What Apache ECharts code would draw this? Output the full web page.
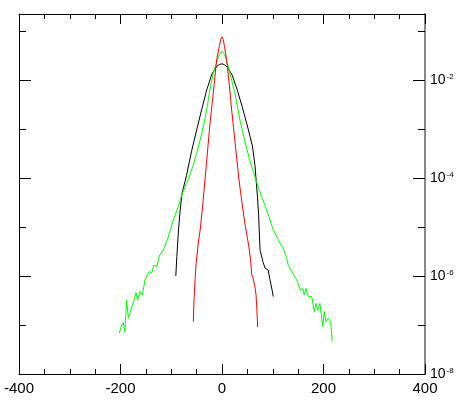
<!DOCTYPE html>
<html lang="en">
<head>
  <meta charset="UTF-8">
  <title>chart</title>
  <script src="https://cdn.jsdelivr.net/npm/echarts@6/dist/echarts.min.js"></script>
  <style>
    html,body{padding:0;margin:0;background:#fff;}
    #box{width:463px;height:405px;}
  </style>
</head>
<body>
  <div id="box"></div>
  <script>
    // black curve
    const blackX = [-91,-89,-86,-83,-79,-76,-70,-60,-50,-40,-30,-20,-10,-5,0,5,10,20,30,40,50,60,65,70,72,75,77,81,85,91,94,96,99,101]
    const blackY = [1.0e-6,2.5e-6,7.9e-6,1.9e-5,4.7e-5,6.3e-5,1.12e-4,3.5e-4,9.5e-4,2.5e-3,6.3e-3,1.32e-2,1.9e-2,2.07e-2,2.14e-2,2.04e-2,1.86e-2,1.26e-2,6.3e-3,2.8e-3,1.15e-3,4.5e-4,1.78e-4,4.0e-5,1.9e-5,3.3e-6,2.8e-6,1.9e-6,1.45e-6,1.32e-6,8.9e-7,7.1e-7,5.0e-7,3.8e-7]

    // red curve
    const redX = [-56.5,-55,-53,-51,-47,-43,-38,-33.5,-28,-23.6,-17,-10.5,-5,-2.5,0,2.5,5,9,14,19,26,33.5,40,45,50,54,57,58.5,61,63,65,67,68.5,70.3]
    const redY = [1.17e-7,3.5e-7,8.5e-7,1.8e-6,4.5e-6,8.7e-6,2.8e-5,9.1e-5,4.0e-4,1.32e-3,5.6e-3,2.6e-2,5.0e-2,6.8e-2,7.6e-2,6.6e-2,4.8e-2,2.6e-2,8.9e-3,2.45e-3,5.0e-4,9.1e-5,2.8e-5,1.2e-5,6.0e-6,3.4e-6,1.78e-6,1.07e-6,9.3e-7,8.7e-7,6.0e-7,4.2e-7,2.3e-7,9.1e-8]

    // green curve
    const greenX = [-202.3,-197.6,-194.4,-191.7,-187.7,-184.6,-181.2,-177.9,-173.4,-169.4,-166.1,-161.5,-157,-151.7,-148.3,-143.2,-138.5,-134,-128.6,-123.5,-115.6,-107.8,
      -96,-86,-79,-66,-58,-50,-40,-30,-24,-17,-10,-5,0,5,10,17,25,35.5,45,55,68,78,88,101,
      114.3,120.8,127.5,130.6,134,139.3,141.8,147.2,150.3,155,159,162.1,165.5,170,176.7,181.8,185.2,188.5,193,198.4,201.5,204.9,209.4,214.2,217.3]
    const greenY = [6.9e-8,1.0e-7,1.12e-7,7.2e-8,3.2e-7,1.38e-7,1.78e-7,1.66e-7,3.2e-7,4.6e-7,3.2e-7,4.8e-7,4.1e-7,8.3e-7,7.6e-7,1.23e-6,1.15e-6,1.66e-6,1.55e-6,2.57e-6,3.4e-6,5.4e-6,
      1.38e-5,2.6e-5,4.7e-5,9.5e-5,1.66e-4,3.16e-4,7.9e-4,2.45e-3,6.3e-3,1.41e-2,2.4e-2,3.3e-2,3.9e-2,3.3e-2,2.3e-2,1.2e-2,5.6e-3,1.51e-3,5.6e-4,2.24e-4,8.3e-5,4.2e-5,2.24e-5,8.7e-6,
      4.7e-6,3.7e-6,2.3e-6,1.66e-6,1.74e-6,1.15e-6,1.23e-6,8.3e-7,8.5e-7,5.1e-7,5.6e-7,4.1e-7,5.6e-7,3.8e-7,3.8e-7,1.86e-7,2.75e-7,2.0e-7,2.75e-7,9.3e-8,1.86e-7,1.17e-7,1.38e-7,1.17e-7,4.6e-8]

    const xMin = -400, xMax = 400
    const yMin = 1e-8, yMax = 0.222

    function pairs(xs, ys){ return xs.map((x,i)=>[x, ys[i]]) }

    const font = 'Liberation Sans'
    const xBase = {
      type:'value', min:xMin, max:xMax, interval:200,
      axisLine:{show:true, onZero:false, lineStyle:{color:'#000', width:1}},
      axisTick:{inside:true, length:10, lineStyle:{color:'#000'}},
      minorTick:{show:true, splitNumber:4, length:5, lineStyle:{color:'#000'}},
      splitLine:{show:false}
    }
    function yAx(pos, interval, len, labels, lineShow, lineColor){
      return {
        type:'log', logBase:10, min:yMin, max:yMax, interval:interval, position:pos,
        axisLine:{show:lineShow, onZero:false, lineStyle:{color:lineColor, width: lineColor=='#000'?1:2}},
        axisTick:{inside:true, length:len, lineStyle:{color:'#000'}},
        splitLine:{show:false},
        axisLabel:{
          show:labels, margin:5, color:'#000',
          formatter:function(v){
            let l = Math.log10(v), e = Math.round(l)
            if(Math.abs(l-e)>0.01) return ''
            return '{b|10}{s|' + e + '}'
          },
          rich:{
            b:{fontSize:14, fontFamily:font, color:'#000'},
            s:{fontSize:8, fontFamily:font, color:'#000', verticalAlign:'top', padding:[0,0,0,1]}
          }
        }
      }
    }

    let option = {
      animation:false,
      backgroundColor:'#fff',
      grid:{left:19, right:38, top:14, bottom:31},
      xAxis:[
        Object.assign({}, xBase, {position:'bottom', axisLabel:{color:'#000', fontSize:15, fontFamily:font, margin:7}}),
        Object.assign({}, xBase, {position:'top', axisLabel:{show:false}})
      ],
      yAxis:[
        yAx('left', 1, 7, false, true, '#000'),
        yAx('left', 2, 12, false, false, '#000'),
        yAx('right', 1, 7, false, true, '#888'),
        yAx('right', 2, 12, true, false, '#000')
      ],
      series:[
        {name:'black', type:'line', symbol:'none', color:'#000', lineStyle:{width:1}, data:pairs(blackX, blackY)},
        {name:'green', type:'line', symbol:'none', color:'#00ff00', lineStyle:{width:1}, data:pairs(greenX, greenY)},
        {name:'red', type:'line', symbol:'none', color:'#ff0000', lineStyle:{width:1}, data:pairs(redX, redY)}
      ]
    };
    let myChart = echarts.init(document.getElementById('box'));
    myChart.setOption(option);
  </script>
</body>
</html>
